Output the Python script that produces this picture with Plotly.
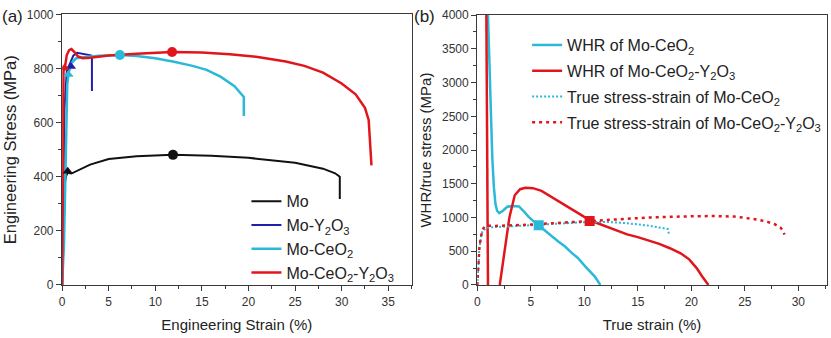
import plotly.graph_objects as go

# ---------------- (a) engineering stress-strain ----------------
mo_x = [0, 0.1, 0.2, 0.3, 0.45, 0.6, 1.0, 2, 3, 5, 8, 11.9, 16, 20, 25, 28, 29.3, 29.8, 29.8]
mo_y = [0, 120, 280, 380, 405, 415, 412, 430, 445, 466, 476, 481, 478, 470, 452, 430, 413, 400, 318]

y2o3_x = [0, 0.1, 0.25, 0.5, 0.8, 1.2, 1.6, 2.2, 3.1, 3.2, 3.2]
y2o3_y = [0, 300, 650, 790, 815, 848, 858, 855, 849, 845, 717]

ceo2_x = [0, 0.2, 0.35, 0.45, 0.55, 0.7, 1.0, 1.5, 2.5, 4, 6.2, 8, 10, 12, 14, 15.5, 17, 18.5, 19.5, 19.5]
ceo2_y = [0, 150, 400, 600, 740, 785, 820, 838, 843, 847, 850, 846, 838, 825, 810, 795, 770, 735, 695, 625]

ceo2y2o3_x = [0, 0.05, 0.15, 0.3, 0.5, 0.75, 1.0, 1.3, 1.7, 2.2, 3, 5, 8, 11.8, 15, 18, 21, 24, 26, 28,
              30, 31.5, 32.5, 32.9, 33.1, 33.2]
ceo2y2o3_y = [0, 400, 790, 805, 850, 868, 872, 862, 845, 838, 840, 848, 855, 861, 859, 853, 843, 826, 810, 785,
              745, 705, 655, 610, 520, 442]

# yield points (triangles) and ultimate strength points (circles)
yield_x = [0.6, 0.95, 0.68, 0.26]
yield_y = [420, 808, 778, 802]
uts_x = [11.9, 6.2, 11.8]
uts_y = [481, 850, 861]

# ---------------- (b) work hardening rate and true stress ----------------
whr_ceo2_x = [1.0, 1.2, 1.4, 1.55, 1.7, 1.85, 2.05, 2.4, 2.8, 3.3, 3.9, 4.3, 4.8, 5.3, 5.74, 6.3, 7.0, 7.6,
              8.2, 8.8, 9.4, 10.0, 10.5, 11.0, 11.5]
whr_ceo2_y = [4000, 2800, 1900, 1450, 1200, 1100, 1065, 1100, 1160, 1170, 1165, 1100, 1010, 940, 884, 820,
              720, 640, 570, 480, 400, 290, 200, 120, 0]

whr_cy_x = [0.85, 0.9, 0.95, 1.0, None, 2.1, 2.5, 3.0, 3.5, 4.0, 4.5, 5.2, 6.0, 7.0, 8.0, 9.0, 10.0, 11.0,
            12.0, 13.0, 14.0, 15.0, 16.0, 17.0, 18.0, 19.0, 19.8, 20.5, 21.0, 21.6]
whr_cy_y = [4000, 2700, 1300, 0, None, 0, 450, 1000, 1330, 1420, 1440, 1435, 1395, 1300, 1200, 1100, 1010,
            930, 870, 800, 750, 710, 660, 610, 545, 470, 380, 250, 130, 0]

ts_ceo2_x = [0, 0.1, 0.2, 0.35, 0.5, 0.8, 1.2, 2, 3, 4, 5.74, 7, 9, 10.5, 12, 14, 16, 17.8, 17.9]
ts_ceo2_y = [0, 300, 550, 720, 800, 840, 855, 860, 868, 875, 890, 905, 925, 935, 935, 915, 880, 830, 760]

ts_cy_x = [0, 0.1, 0.2, 0.35, 0.5, 0.7, 0.9, 1.5, 3, 5, 7, 10.5, 13, 16, 19, 22, 24, 25.2, 26.2, 27.1,
           27.8, 28.3, 28.6, 28.7]
ts_cy_y = [0, 350, 560, 720, 820, 870, 880, 875, 880, 895, 915, 950, 975, 1000, 1015, 1022, 1015, 993, 970,
           936, 900, 855, 800, 745]

# intersection of WHR and true stress (necking onset)
neck_x = [5.74, 10.5]
neck_y = [884, 950]

BLACK = "#111111"
BLUE = "#1f1fa8"
CYAN = "#2bb9d9"
RED = "#e0161c"
AXIS = "#3a3a3a"
FONT = "Arial, Liberation Sans, sans-serif"

fig = go.Figure()

# panel (a) curves
fig.add_trace(go.Scatter(x=mo_x, y=mo_y, mode="lines", name="Mo",
                         line=dict(color=BLACK, width=2), legend="legend"))
fig.add_trace(go.Scatter(x=y2o3_x, y=y2o3_y, mode="lines", name="Mo-Y<sub>2</sub>O<sub>3</sub>",
                         line=dict(color=BLUE, width=2), legend="legend"))
fig.add_trace(go.Scatter(x=ceo2_x, y=ceo2_y, mode="lines", name="Mo-CeO<sub>2</sub>",
                         line=dict(color=CYAN, width=2.5), legend="legend"))
fig.add_trace(go.Scatter(x=ceo2y2o3_x, y=ceo2y2o3_y, mode="lines",
                         name="Mo-CeO<sub>2</sub>-Y<sub>2</sub>O<sub>3</sub>",
                         line=dict(color=RED, width=2.5), legend="legend"))
fig.add_trace(go.Scatter(x=yield_x, y=yield_y, mode="markers", showlegend=False,
                         marker=dict(symbol="triangle-up", size=9,
                                     color=[BLACK, BLUE, CYAN, RED])))
fig.add_trace(go.Scatter(x=uts_x, y=uts_y, mode="markers", showlegend=False,
                         marker=dict(symbol="circle", size=10, color=[BLACK, CYAN, RED])))

# panel (b) curves
fig.add_trace(go.Scatter(x=whr_ceo2_x, y=whr_ceo2_y, mode="lines", name="WHR of Mo-CeO<sub>2</sub>",
                         line=dict(color=CYAN, width=2.5), xaxis="x2", yaxis="y2",
                         legend="legend2", legendgroup="g1"))
fig.add_trace(go.Scatter(x=whr_cy_x, y=whr_cy_y, mode="lines",
                         name="WHR of Mo-CeO<sub>2</sub>-Y<sub>2</sub>O<sub>3</sub>",
                         line=dict(color=RED, width=2.5), xaxis="x2", yaxis="y2",
                         legend="legend2", legendgroup="g2"))
fig.add_trace(go.Scatter(x=ts_ceo2_x, y=ts_ceo2_y, mode="lines",
                         name="True stress-strain of Mo-CeO<sub>2</sub>",
                         line=dict(color=CYAN, width=2, dash="2px,2px"), xaxis="x2", yaxis="y2",
                         legend="legend2", legendgroup="g3"))
fig.add_trace(go.Scatter(x=ts_cy_x, y=ts_cy_y, mode="lines",
                         name="True stress-strain of Mo-CeO<sub>2</sub>-Y<sub>2</sub>O<sub>3</sub>",
                         line=dict(color=RED, width=2.5, dash="3px,4px"), xaxis="x2", yaxis="y2",
                         legend="legend2", legendgroup="g4"))
fig.add_trace(go.Scatter(x=neck_x, y=neck_y, mode="markers", showlegend=False,
                         marker=dict(symbol="square", size=10, color=[CYAN, RED]),
                         xaxis="x2", yaxis="y2"))

axis_common = dict(
    showline=True, linecolor=AXIS, linewidth=1.4, mirror=True,
    ticks="outside", ticklen=5, tickwidth=1.2, tickcolor=AXIS,
    showgrid=False, zeroline=False,
    tickfont=dict(family=FONT, size=12, color="#333333"),
)
minor = dict(ticks="outside", ticklen=3, tickwidth=1, tickcolor=AXIS, showgrid=False)

fig.update_layout(
    width=831, height=338,
    margin=dict(l=0, r=0, t=0, b=0),
    paper_bgcolor="white", plot_bgcolor="white",
    font=dict(family=FONT, color="#222222"),
    xaxis=dict(domain=[0.0714, 0.4934], range=[0, 37.5], dtick=5,
               minor=dict(dtick=2.5, **minor),
               title=dict(text="Engineering Strain (%)", font=dict(size=15), standoff=11),
               **axis_common),
    yaxis=dict(domain=[0.142, 0.977], range=[0, 1000], dtick=200,
               minor=dict(dtick=100, **minor),
               title=dict(text="Engineering Stress (MPa)", font=dict(size=16.5), standoff=6),
               **axis_common),
    xaxis2=dict(domain=[0.5728, 0.9948], range=[0, 32.65], dtick=5, anchor="y2",
                minor=dict(dtick=2.5, **minor),
                title=dict(text="True strain (%)", font=dict(size=15), standoff=11),
                **axis_common),
    yaxis2=dict(domain=[0.142, 0.975], range=[0, 4000], dtick=500, anchor="x2",
                minor=dict(dtick=250, **minor),
                title=dict(text="WHR/true stress (MPa)", font=dict(size=15), standoff=6),
                **axis_common),
    legend=dict(x=0.294, y=0.453, xanchor="left", yanchor="top",
                bgcolor="rgba(0,0,0,0)", borderwidth=0,
                font=dict(family=FONT, size=16, color="#222222")),
    legend2=dict(x=0.633, y=0.935, xanchor="left", yanchor="top",
                 bgcolor="rgba(0,0,0,0)", borderwidth=0, tracegroupgap=2,
                 font=dict(family=FONT, size=16, color="#222222")),
    annotations=[
        dict(text="(a)", x=0.0, y=0.97, xref="paper", yref="paper", xanchor="left", xshift=-3,
             yanchor="middle", showarrow=False, font=dict(family=FONT, size=17, color="#222222")),
        dict(text="(b)", x=0.497, y=0.97, xref="paper", yref="paper", xanchor="left", xshift=-3,
             yanchor="middle", showarrow=False, font=dict(family=FONT, size=17, color="#222222")),
    ],
)

fig.write_html("out.html")
